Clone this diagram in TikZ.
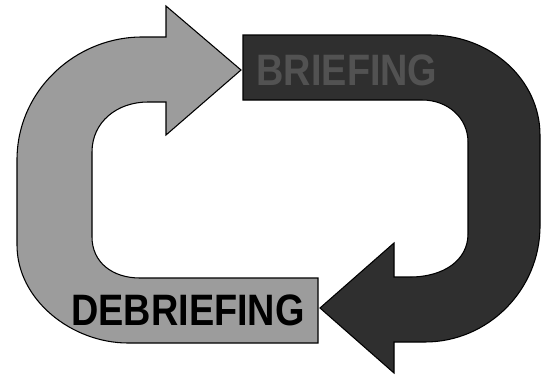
\documentclass[tikz,border=0pt]{standalone}
\usepackage{fontspec}
\setmainfont{Liberation Sans}
\usetikzlibrary{positioning}

\definecolor{lightband}{HTML}{9C9C9C}
\definecolor{darkband}{HTML}{2F2F2F}

\begin{document}
\begin{tikzpicture}[
  x=0.75pt, y=-0.75pt,
  greyarrow/.style={fill=lightband, draw=black, line width=0.8pt, line join=miter},
  darkarrow/.style={fill=darkband, draw=black, line width=0.8pt, line join=miter},
  lbl/.style={font=\bfseries\fontsize{33}{33}\selectfont, inner sep=0pt, anchor=center},
]
\useasboundingbox (0,0) rectangle (544,379);

% grey arrow: debriefing -> briefing
\draw[greyarrow] (318,278) -- (318,343) -- (128,343)
  .. controls (72,343) and (17,300) .. (17,245) -- (17,160)
  .. controls (17,90) and (76,37) .. (142,37) -- (166,37) -- (166,6)
  -- (241,70) -- (166,135) -- (166,102) -- (148,102)
  .. controls (117,102) and (92,122) .. (92,152) -- (92,237)
  .. controls (92,262) and (112,278) .. (140,278) -- cycle;

% dark arrow: briefing -> debriefing
\draw[darkarrow] (243,35) -- (430,35)
  .. controls (491,35) and (540,80) .. (540,135) -- (540,226)
  .. controls (540,290) and (488,342) .. (425,342) -- (394,342) -- (394,373)
  -- (320,308) -- (394,243) -- (394,277) -- (410,277)
  .. controls (444,277) and (468,260) .. (468,234) -- (468,142)
  .. controls (468,118) and (448,100) .. (422,100) -- (243,100) -- cycle;

\node[lbl, text=black!68] (brief) at (347,70) {\addfontfeature{FakeStretch=0.86}BRIEFING};
\node[lbl, text=black] (debrief) at (188,310) {\addfontfeature{FakeStretch=0.86}DEBRIEFING};

\end{tikzpicture}
\end{document}
